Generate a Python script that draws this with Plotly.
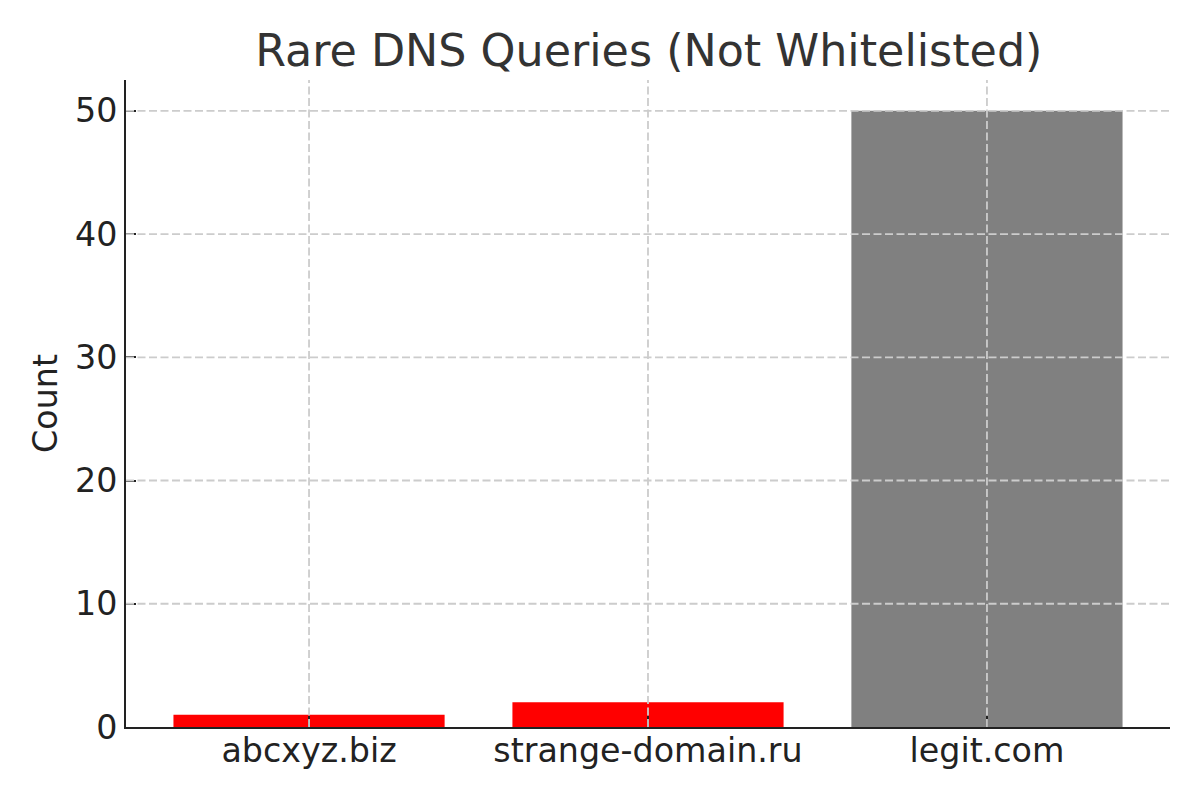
import plotly.graph_objects as go

domains = ["abcxyz.biz", "strange-domain.ru", "legit.com"]
counts = [1, 2, 50]
colors = ["red", "red", "gray"]
y_ticks = [0, 10, 20, 30, 40, 50]

x_idx = list(range(len(domains)))
fig = go.Figure(go.Bar(
    x=x_idx, y=counts, marker_color=colors,
    marker_line_width=0, width=0.8,
))

font = "DejaVu Sans"
grid_line = dict(color="#cccccc", width=1.8, dash="8px,3.5px")
shapes = []
for v in y_ticks[1:]:
    shapes.append(dict(type="line", xref="paper", yref="y", x0=0, x1=1, y0=v, y1=v,
                       line=grid_line, layer="above"))
for v in x_idx:
    shapes.append(dict(type="line", xref="x", yref="paper", x0=v, x1=v, y0=0, y1=1,
                       line=grid_line, layer="above"))

fig.update_layout(
    width=1200, height=800,
    margin=dict(l=118, r=38, t=72, b=81),
    paper_bgcolor="white", plot_bgcolor="white",
    title=dict(text="Rare DNS Queries (Not Whitelisted)", x=0.534, xanchor="center",
               y=0.9475, yanchor="middle",
               font=dict(family=font, size=44.4, color="#333333")),
    font=dict(family=font, color="#222222"),
    showlegend=False,
    shapes=shapes,
)
fig.update_xaxes(
    range=[-0.54, 2.54], tickmode="array", tickvals=x_idx,
    ticktext=domains, tickfont=dict(size=33.3, color="#222222"),
    showline=True, linecolor="#222222", linewidth=2,
    ticks="inside", ticklen=11, tickwidth=2, tickcolor="#222222",
    ticklabelstandoff=-7,
    showgrid=False, zeroline=False, layer="above traces",
)
fig.update_yaxes(
    range=[0, 52.5], tickmode="array", tickvals=y_ticks,
    tickfont=dict(size=33.3, color="#222222"),
    title=dict(text="Count", font=dict(size=33.3, color="#222222"), standoff=7),
    showline=True, linecolor="#222222", linewidth=2,
    ticks="inside", ticklen=10, tickwidth=2, tickcolor="#222222",
    showgrid=False, zeroline=False, layer="above traces",
)

fig.write_html("out.html")
